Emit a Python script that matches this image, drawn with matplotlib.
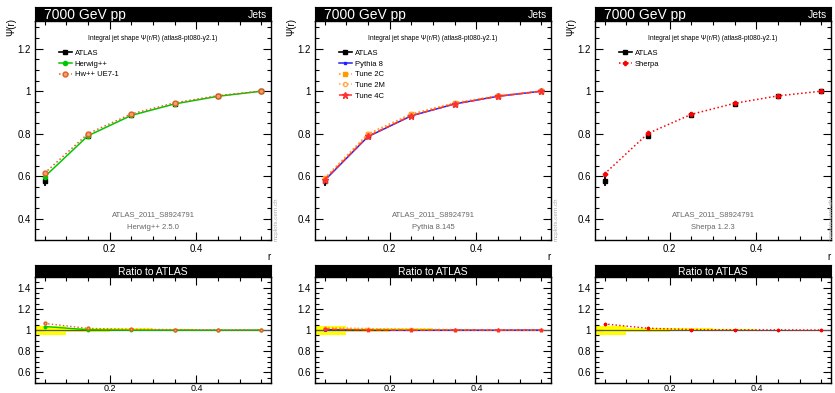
import numpy as np
import matplotlib.pyplot as plt
from matplotlib.ticker import MultipleLocator, FormatStrFormatter

plt.rcParams['font.family'] = ['Liberation Sans', 'DejaVu Sans']

# datos
r = [0.05, 0.15, 0.25, 0.35, 0.45, 0.55]
bordes = [0.0, 0.1, 0.2, 0.3, 0.4, 0.5, 0.6]
atlas = [0.578, 0.788, 0.887, 0.941, 0.977, 1.0]
atlas_err_lo = [0.026, 0.013, 0.010, 0.005, 0.003, 0.0]
atlas_err_hi = [0.022, 0.015, 0.013, 0.006, 0.002, 0.0]

herwig = [0.597, 0.790, 0.886, 0.940, 0.976, 1.0]
hw_ue7 = [0.614, 0.800, 0.893, 0.945, 0.979, 1.0]

pythia8 = [0.580, 0.786, 0.884, 0.940, 0.976, 1.0]
tune2c = [0.590, 0.799, 0.893, 0.945, 0.979, 1.0]
tune2m = [0.588, 0.797, 0.891, 0.944, 0.978, 1.0]
tune4c = [0.583, 0.788, 0.885, 0.940, 0.976, 1.0]

sherpa = [0.611, 0.801, 0.891, 0.943, 0.978, 1.0]

paneles = [
    ("Herwig++ 2.5.0", [
        ("Herwig++", herwig, dict(color="#00c800", ls="-", marker="o", ms=3, mfc="#00c800")),
        ("Hw++ UE7-1", hw_ue7, dict(color="#e0601f", ls=":", marker="o", ms=3.5, mfc="#f4a070")),
    ]),
    ("Pythia 8.145", [
        ("Pythia 8", pythia8, dict(color="#2020ff", ls="-", marker="s", ms=2, mfc="#2020ff")),
        ("Tune 2C", tune2c, dict(color="#ff9900", ls=":", marker="s", ms=2.5, mfc="#ff9900")),
        ("Tune 2M", tune2m, dict(color="#ffaa44", ls=":", marker="o", ms=3, mfc="none")),
        ("Tune 4C", tune4c, dict(color="#ff3030", ls="--", marker="*", ms=4.5, mfc="#ff3030")),
    ]),
    ("Sherpa 1.2.3", [
        ("Sherpa", sherpa, dict(color="#ff0000", ls=":", marker="P", ms=3, mfc="#ff0000")),
    ]),
]

W, H = 835, 393
fig = plt.figure(figsize=(W / 100, H / 100), dpi=100)


def fx(px):
    return px / W


def fy(py):
    return 1 - py / H


r = np.array(r)
atlas = np.array(atlas)
err = np.array([atlas_err_lo, atlas_err_hi])


def ticks(ax, ymaj, ymin):
    ax.xaxis.set_major_locator(MultipleLocator(0.2))
    ax.xaxis.set_minor_locator(MultipleLocator(0.05))
    ax.yaxis.set_major_locator(MultipleLocator(ymaj))
    ax.yaxis.set_minor_locator(MultipleLocator(ymin))
    ax.xaxis.set_major_formatter(FormatStrFormatter('%g'))
    ax.yaxis.set_major_formatter(FormatStrFormatter('%g'))
    ax.tick_params(which="both", direction="in", top=True, right=True, labelsize=7, pad=3)
    ax.tick_params(which="major", length=6, width=0.8)
    ax.tick_params(which="minor", length=3, width=0.8)
    for s in ax.spines.values():
        s.set_linewidth(1.0)


def banner(x0, x1, y0, y1, left, right=None, size=9):
    b = fig.add_axes([fx(x0), fy(y1), fx(x1 - x0), fy(y0) - fy(y1)])
    b.set_facecolor("black")
    b.set_xticks([])
    b.set_yticks([])
    if right is None:
        b.text(0.5, 0.45, left, color="white", ha="center", va="center", fontsize=size)
    else:
        b.text(0.04, 0.4, left, color="white", ha="left", va="center", fontsize=size)
        b.text(0.985, 0.4, right, color="white", ha="right", va="center", fontsize=7.5)


for i, (version, modelos) in enumerate(paneles):
    off = 280 * i
    x0, x1 = 35 + off, 271 + off

    # panel principal
    banner(x0, x1, 7, 21, "7000 GeV pp", "Jets", size=10)
    ax = fig.add_axes([fx(x0), fy(240), fx(x1 - x0), fy(21) - fy(240)])
    ax.set_xlim(0.028, 0.572)
    ax.set_ylim(0.3, 1.33)
    ticks(ax, 0.2, 0.05)

    ax.errorbar(r, atlas, yerr=err, fmt="s", color="black", ms=3.5, lw=1.3,
                capsize=0, zorder=3)
    ax.plot([], [], color="black", marker="s", ms=3, lw=1.2, label="ATLAS")
    for nombre, vals, st in modelos:
        ax.plot(r, vals, lw=1.1, mec=st["color"], label=nombre, zorder=4, **st)

    ax.legend(loc="upper left", bbox_to_anchor=(0.1, 0.87), frameon=False,
              fontsize=5.5, borderpad=0, borderaxespad=0, handlelength=1.7,
              handletextpad=0.4, labelspacing=0.45)
    ax.text(0.5, 0.92, "Integral jet shape \u03a8(r/R) (atlas8-pt080-y2.1)",
            transform=ax.transAxes, ha="center", va="center", fontsize=4.8)
    ax.text(0.5, 0.115, "ATLAS_2011_S8924791", transform=ax.transAxes,
            ha="center", va="center", fontsize=5.5, color="#666666")
    ax.text(0.5, 0.055, version, transform=ax.transAxes,
            ha="center", va="center", fontsize=5.5, color="#666666")
    ax.text(-0.1, 1.015, "\u03a8(r)", transform=ax.transAxes, rotation=90,
            ha="center", va="top", fontsize=7)
    ax.text(1.0, -0.078, "r", transform=ax.transAxes, ha="right", va="center",
            fontsize=7)
    fig.text(fx(min(x1 + 5, W - 4)), fy(219), "mcplots.cern.ch", rotation=90,
             ha="center", va="center", fontsize=4.5, color="#aaaaaa")

    # panel de cociente
    banner(x0, x1, 265, 277, "Ratio to ATLAS", size=7.5)
    rx = fig.add_axes([fx(x0), fy(383), fx(x1 - x0), fy(277) - fy(383)])
    rx.set_xlim(0.028, 0.572)
    rx.set_ylim(0.5, 1.5)
    ticks(rx, 0.2, 0.05)
    rx.tick_params(axis="x", which="both", pad=1, labelsize=6.5)
    bajo = 1 - err[0] / atlas
    alto = 1 + err[1] / atlas
    rx.fill_between(bordes, np.append(bajo, bajo[-1]), np.append(alto, alto[-1]),
                    step="post", color="#ffff00", lw=0, zorder=1)
    rx.axhline(1.0, color="#555555", lw=0.9, zorder=2)
    for nombre, vals, st in modelos:
        st2 = dict(st)
        st2["ms"] = st["ms"] * 0.6
        rx.plot(r, np.array(vals) / atlas, lw=1.0, mec=st["color"], zorder=3, **st2)

fig.savefig("out.png", dpi=100)
